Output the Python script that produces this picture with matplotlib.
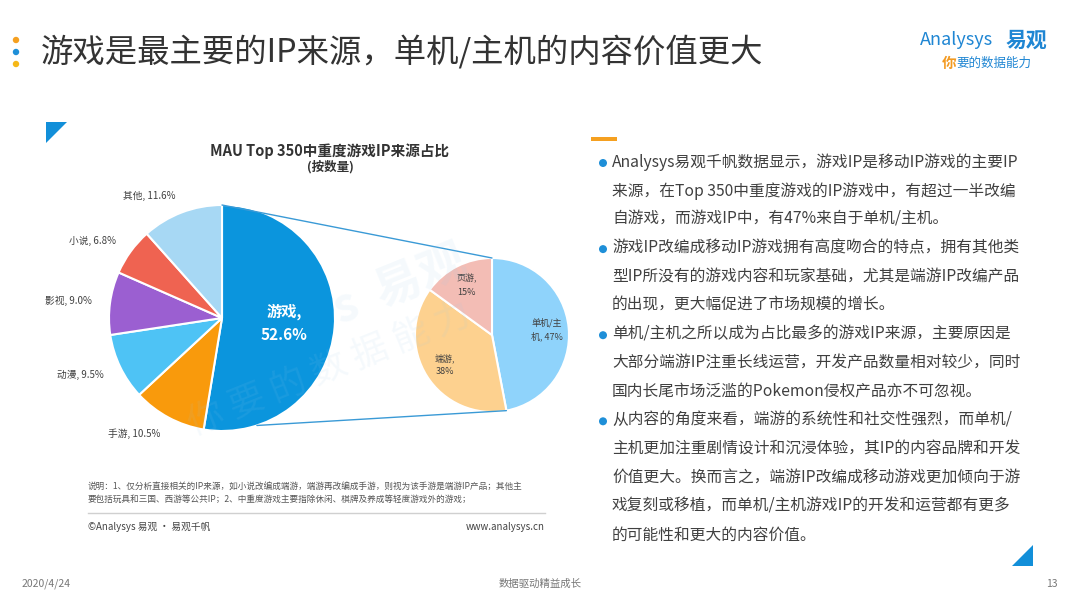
import numpy as np
import matplotlib
matplotlib.use('Agg')
import matplotlib.pyplot as plt
from matplotlib.patches import Polygon, Circle, ConnectionPatch

plt.rcParams['font.family'] = ['Noto Sans CJK SC', 'DejaVu Sans']

W, H = 1080, 608

# data
main_names = ['游戏', '手游', '动漫', '影视', '小说', '其他']
main_values = [52.6, 10.5, 9.5, 9.0, 6.8, 11.6]
main_colors = ['#0b95dd', '#f99a0c', '#4ec3f5', '#9b5fd1', '#ef6351', '#a7d8f4']

sub_names = ['单机/主机', '端游', '页游']
sub_values = [47, 38, 15]
sub_colors = ['#8fd3fb', '#fdd18f', '#f3bdb5']

title = '游戏是最主要的IP来源，单机/主机的内容价值更大'
chart_title = 'MAU Top 350中重度游戏IP来源占比'
chart_subtitle = '(按数量)'

bullets = [
    ['Analysys易观千帆数据显示，游戏IP是移动IP游戏的主要IP',
     '来源，在Top 350中重度游戏的IP游戏中，有超过一半改编',
     '自游戏，而游戏IP中，有47%来自于单机/主机。'],
    ['游戏IP改编成移动IP游戏拥有高度吻合的特点，拥有其他类',
     '型IP所没有的游戏内容和玩家基础，尤其是端游IP改编产品',
     '的出现，更大幅促进了市场规模的增长。'],
    ['单机/主机之所以成为占比最多的游戏IP来源，主要原因是',
     '大部分端游IP注重长线运营，开发产品数量相对较少，同时',
     '国内长尾市场泛滥的Pokemon侵权产品亦不可忽视。'],
    ['从内容的角度来看，端游的系统性和社交性强烈，而单机/',
     '主机更加注重剧情设计和沉浸体验，其IP的内容品牌和开发',
     '价值更大。换而言之，端游IP改编成移动游戏更加倾向于游',
     '戏复刻或移植，而单机/主机游戏IP的开发和运营都有更多',
     '的可能性和更大的内容价值。'],
]

notes = ['说明：1、仅分析直接相关的IP来源，如小说改编成端游，端游再改编成手游，则视为该手游是端游IP产品；其他主',
         '要包括玩具和三国、西游等公共IP；2、中重度游戏主要指除休闲、棋牌及养成等轻度游戏外的游戏；']


def box(cx, cy, r):
    return [(cx - r) / W, (H - cy - r) / H, 2 * r / W, 2 * r / H]


fig = plt.figure(figsize=(W / 100, H / 100), dpi=100)
bg = fig.add_axes([0, 0, 1, 1])
bg.set_xlim(0, W)
bg.set_ylim(H, 0)
bg.axis('off')

# header
for y, c in [(40, '#f5a020'), (52, '#1e8fd8'), (64, '#f5b818')]:
    bg.add_patch(Circle((16, y), 3.2, color=c, lw=0))
bg.text(41, 52, title, fontsize=23.3, color='#333333', va='center', ha='left')

# logo
bg.text(920, 40, 'Analysys', fontsize=13, color='#1f86d3', style='italic', va='center')
bg.text(1006, 40, '易观', fontsize=15, color='#1f86d3', weight='bold', va='center')
bg.text(942, 63, '你', fontsize=10.5, color='#f39a21', style='italic', weight='bold', va='center')
bg.text(956, 63, '要的数据能力', fontsize=9, color='#1f86d3', style='italic', va='center')

# decorative triangles and bar
bg.add_patch(Polygon([(46, 122), (67, 122), (46, 143)], closed=True, color='#128fd9', lw=0))
bg.add_patch(Polygon([(1033, 545), (1033, 566), (1012, 566)], closed=True, color='#128fd9', lw=0))
bg.add_patch(Polygon([(591, 137), (617, 137), (617, 141), (591, 141)], closed=True, color='#f5a020', lw=0))

# chart title
bg.text(330, 151, chart_title, fontsize=10.5, weight='bold', color='#333333', ha='center', va='center')
bg.text(330, 167, chart_subtitle, fontsize=9, weight='bold', color='#333333', ha='center', va='center')

# main pie
ax1 = fig.add_axes(box(222, 318, 113))
main_labels = ['%s, %.1f%%' % (n, v) for n, v in zip(main_names, main_values)]
wedges1, texts1 = ax1.pie(main_values, colors=main_colors, startangle=90, counterclock=False,
                          labels=main_labels, labeldistance=1.16,
                          wedgeprops=dict(edgecolor='white', linewidth=1.5),
                          textprops=dict(fontsize=7, color='#404040'))
ax1.set_xlim(-1, 1)
ax1.set_ylim(-1, 1)
ax1.axis('off')
w0 = wedges1[0]
mid = np.deg2rad((w0.theta1 + w0.theta2) / 2)
texts1[0].set_text('%s,\n%.1f%%' % (main_names[0], main_values[0]))
texts1[0].set_position((0.55 * np.cos(mid), 0.55 * np.sin(mid)))
texts1[0].set_ha('center')
texts1[0].set_va('center')
texts1[0].set_color('white')
texts1[0].set_fontsize(11)
texts1[0].set_weight('bold')
texts1[0].set_linespacing(1.5)

# sub pie
ax2 = fig.add_axes(box(492, 335, 77))
sub_labels = []
for n, v in zip(sub_names, sub_values):
    s = '%s, %d%%' % (n, v)
    if len(n) > 2:
        sub_labels.append(s[:4] + '\n' + s[4:])
    else:
        sub_labels.append('%s,\n%d%%' % (n, v))
wedges2, texts2 = ax2.pie(sub_values, colors=sub_colors, startangle=90, counterclock=False,
                          labels=sub_labels, labeldistance=0.72,
                          wedgeprops=dict(edgecolor='white', linewidth=1.5),
                          textprops=dict(fontsize=6.5, color='#404040'))
for t in texts2:
    t.set_ha('center')
    t.set_va('center')
    t.set_linespacing(1.6)
ax2.set_xlim(-1, 1)
ax2.set_ylim(-1, 1)
ax2.axis('off')

# connectors between the pies
top2 = max(wedges2[0].theta1, wedges2[0].theta2)
bot2 = min(wedges2[0].theta1, wedges2[0].theta2)
for a1, a2 in [(90, top2), (-72, bot2)]:
    p1 = (np.cos(np.deg2rad(a1)), np.sin(np.deg2rad(a1)))
    p2 = (np.cos(np.deg2rad(a2)), np.sin(np.deg2rad(a2)))
    con = ConnectionPatch(xyA=p1, coordsA=ax1.transData, xyB=p2, coordsB=ax2.transData,
                          color='#3a9ad6', lw=1)
    fig.add_artist(con)

# watermark
fig.text(400 / W, 1 - 285 / H, 's  易观', fontsize=34, color='#9ccbea', alpha=0.1,
         rotation=22, ha='center', va='center', weight='bold')
fig.text(330 / W, 1 - 370 / H, '你 要 的 数 据 能 力', fontsize=26, color='#9ccbea', alpha=0.1,
         rotation=22, ha='center', va='center')

# notes and source
bg.text(88, 486, notes[0], fontsize=6.2, color='#555555', va='center')
bg.text(88, 499, notes[1], fontsize=6.2, color='#555555', va='center')
bg.plot([88, 545], [513, 513], color='#d0d0d0', lw=1)
bg.text(88, 527, '©Analysys 易观 · 易观千帆', fontsize=7, color='#444444', va='center')
bg.text(545, 527, 'www.analysys.cn', fontsize=7, color='#444444', va='center', ha='right')

# right text block
y = 162
for para in bullets:
    bg.add_patch(Circle((603, y + 1), 4, color='#1e8fd8', lw=0))
    for line in para:
        bg.text(612, y, line, fontsize=11.3, color='#404040', va='center', ha='left')
        y += 28.7

# footer
bg.text(22, 584, '2020/4/24', fontsize=7.5, color='#777777', va='center')
bg.text(540, 584, '数据驱动精益成长', fontsize=7.5, color='#777777', va='center', ha='center')
bg.text(1058, 584, '13', fontsize=7.5, color='#777777', va='center', ha='right')

fig.savefig('out.png', dpi=100)
